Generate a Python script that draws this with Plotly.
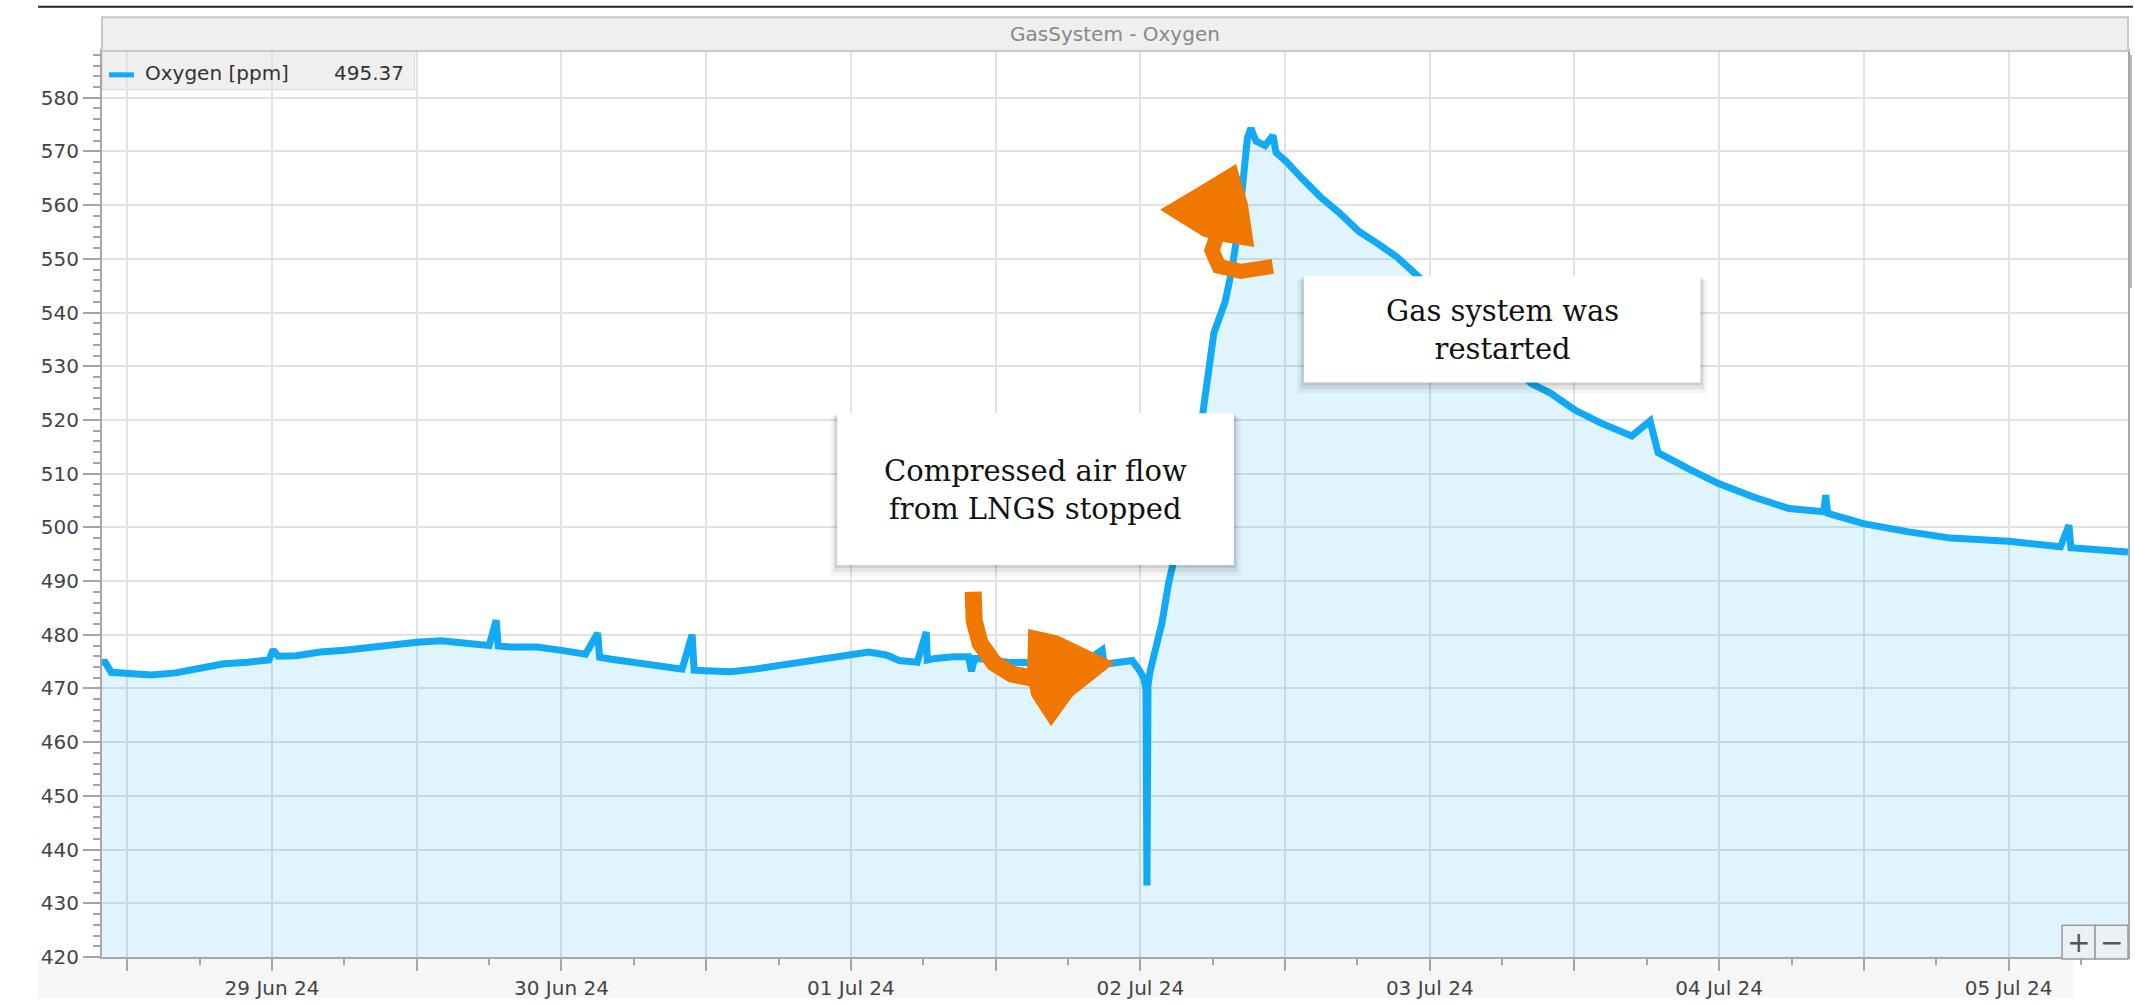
import pandas as pd
import plotly.graph_objects as go

# oxygen trace (ppm)
times = [
    "2024-06-28 09:54", "2024-06-28 10:05", "2024-06-28 10:40", "2024-06-28 12:00",
    "2024-06-28 14:00", "2024-06-28 16:00", "2024-06-28 18:00", "2024-06-28 20:00",
    "2024-06-28 22:00", "2024-06-28 23:45", "2024-06-29 00:05", "2024-06-29 00:30",
    "2024-06-29 02:00", "2024-06-29 04:00", "2024-06-29 06:00", "2024-06-29 08:00",
    "2024-06-29 10:00", "2024-06-29 12:00", "2024-06-29 14:00", "2024-06-29 16:00",
    "2024-06-29 18:00", "2024-06-29 18:35", "2024-06-29 18:45", "2024-06-29 20:00",
    "2024-06-29 22:00", "2024-06-30 00:00", "2024-06-30 02:00", "2024-06-30 03:00",
    "2024-06-30 03:10", "2024-06-30 04:00", "2024-06-30 06:00", "2024-06-30 08:00",
    "2024-06-30 10:00", "2024-06-30 10:50", "2024-06-30 11:00", "2024-06-30 12:00",
    "2024-06-30 14:00", "2024-06-30 16:00", "2024-06-30 18:00", "2024-06-30 20:00",
    "2024-06-30 22:00", "2024-07-01 00:00", "2024-07-01 01:30", "2024-07-01 03:00",
    "2024-07-01 04:00", "2024-07-01 05:30", "2024-07-01 06:15", "2024-07-01 06:20",
    "2024-07-01 07:00", "2024-07-01 08:30", "2024-07-01 09:45", "2024-07-01 10:00",
    "2024-07-01 10:15", "2024-07-01 11:00", "2024-07-01 13:00", "2024-07-01 15:00",
    "2024-07-01 17:00", "2024-07-01 19:00", "2024-07-01 20:50", "2024-07-01 21:00",
    "2024-07-01 22:00", "2024-07-01 23:20", "2024-07-01 23:50", "2024-07-02 00:18",
    "2024-07-02 00:28", "2024-07-02 00:33", "2024-07-02 00:38", "2024-07-02 00:48",
    "2024-07-02 01:12", "2024-07-02 01:48", "2024-07-02 02:21", "2024-07-02 02:54",
    "2024-07-02 05:11", "2024-07-02 05:33", "2024-07-02 06:06", "2024-07-02 07:02",
    "2024-07-02 07:35", "2024-07-02 08:08", "2024-07-02 08:30", "2024-07-02 08:53",
    "2024-07-02 09:10", "2024-07-02 09:36", "2024-07-02 10:21", "2024-07-02 11:00",
    "2024-07-02 11:15", "2024-07-02 12:06", "2024-07-02 13:24", "2024-07-02 14:57",
    "2024-07-02 16:32", "2024-07-02 18:08", "2024-07-02 19:43", "2024-07-02 21:18",
    "2024-07-02 22:54", "2024-07-03 08:24", "2024-07-03 10:00", "2024-07-03 12:00",
    "2024-07-03 14:12", "2024-07-03 16:45", "2024-07-03 18:16", "2024-07-03 18:56",
    "2024-07-03 21:28", "2024-07-04 00:00", "2024-07-04 02:54", "2024-07-04 05:48",
    "2024-07-04 08:40", "2024-07-04 08:50", "2024-07-04 09:00", "2024-07-04 11:58",
    "2024-07-04 15:36", "2024-07-04 19:12", "2024-07-05 00:00", "2024-07-05 04:18",
    "2024-07-05 05:00", "2024-07-05 05:10", "2024-07-05 09:54",
]
oxygen = [
    474.3, 475.2, 473.0, 472.7,
    472.5, 472.9, 473.9, 474.6,
    474.9, 475.3, 477.2, 476.0,
    476.1, 476.8, 477.1, 477.7,
    478.0, 478.6, 478.9, 478.6,
    478.0, 482.7, 477.9, 477.7,
    477.7, 477.1, 476.4, 480.3,
    475.8, 475.5, 474.9, 474.3,
    473.6, 480.0, 473.4, 473.3,
    473.1, 473.6, 474.3, 474.9,
    475.8, 476.2, 476.8, 476.2,
    475.2, 474.9, 480.5, 475.3,
    475.6, 475.9, 475.9, 473.2,
    475.6, 475.5, 474.9, 474.8,
    474.3, 474.3, 477.2, 474.5,
    474.9, 475.2, 473.7, 471.9,
    469.8, 433.3, 470.5, 473.1,
    476.8, 482.3, 489.7, 495.0,
    521.3, 527.5, 536.2, 542.0,
    547.9, 555.9, 563.0, 572.6,
    574.3, 571.9, 571.1, 573.0,
    569.8, 568.1, 565.0, 561.5,
    558.5, 555.1, 552.8, 550.3,
    547.0, 526.8, 525.0, 521.9,
    519.4, 517.0, 519.8, 513.9,
    510.9, 508.1, 505.6, 503.5,
    502.9, 506.0, 502.6, 500.7,
    499.2, 498.0, 497.4, 496.4,
    500.4, 496.2, 495.4,
]
legend_name = "Oxygen [ppm]"
legend_value = "495.37"
x_window = ["2024-06-28 09:54", "2024-07-05 09:54"]
y_window = [420, 588.7]

notes = ["Compressed air flow<br>from LNGS stopped", "Gas system was<br>restarted"]

LINE = "#12a9f5"
ORANGE = "#f07800"
UI_FONT = "DejaVu Sans"

# pixel frame of the plot area, used only for the overlay decorations
W, H = 2135, 1005
L, R, T, B = 102, 2130, 51, 964


def px(x):
    return (x - L) / (R - L)


def py(y):
    return (B - y) / (B - T)


def path(points, close=False):
    s = "M " + " L ".join(f"{px(x):.5f},{py(y):.5f}" for x, y in points)
    return s + (" Z" if close else "")


tickvals = pd.date_range("2024-06-28 12:00", "2024-07-05 00:00", freq="12h")
ticktext = [t.strftime("%d %b %y") if t.hour == 0 else "" for t in tickvals]

fig = go.Figure()
fig.add_trace(go.Scatter(x=pd.to_datetime(times), y=oxygen, mode="lines",
                         line=dict(color=LINE, width=7),
                         fill="tozeroy", fillcolor="rgba(18,169,245,0.13)",
                         name=legend_name, hoverinfo="skip"))

shapes = []
# window chrome: dark rule on top, title bar, bottom strip
shapes.append(dict(type="line", xref="paper", yref="paper",
                   x0=px(38), x1=px(2135), y0=py(6.5), y1=py(6.5),
                   line=dict(color="#222", width=2)))
shapes.append(dict(type="rect", xref="paper", yref="paper",
                   x0=0, x1=1, y0=py(51), y1=py(17),
                   fillcolor="#efefef", line=dict(color="#c8c8c8", width=2)))
shapes.append(dict(type="rect", xref="paper", yref="paper", layer="below",
                   x0=px(38), x1=px(2075), y0=py(1005), y1=py(966),
                   fillcolor="#f6f6f6", line=dict(width=0)))
# side panel edge at the far right
shapes.append(dict(type="line", xref="paper", yref="paper",
                   x0=px(2133), x1=px(2133), y0=py(290), y1=py(55),
                   line=dict(color="#b8b8b8", width=2)))
# legend box
shapes.append(dict(type="rect", xref="paper", yref="paper", layer="below",
                   x0=0, x1=px(415), y0=py(90), y1=1,
                   fillcolor="#efefef", line=dict(color="#d8d8d8", width=1)))
shapes.append(dict(type="line", xref="paper", yref="paper",
                   x0=px(109), x1=px(134), y0=py(75), y1=py(75),
                   line=dict(color=LINE, width=5)))

# callout boxes with soft shadows
boxes = [(838, 416, 1235, 569), (1305, 278, 1702, 385)]
for x0, y0, x1, y1 in boxes:
    for grow, drop, alpha in [(7, 11, 0.04), (4, 7, 0.07), (2, 3, 0.09)]:
        shapes.append(dict(type="rect", xref="paper", yref="paper",
                           x0=px(x0 - grow), x1=px(x1 + grow),
                           y0=py(y1 + drop), y1=py(y0 + drop - grow),
                           fillcolor=f"rgba(0,0,0,{alpha})", line=dict(width=0)))
    shapes.append(dict(type="rect", xref="paper", yref="paper",
                       x0=px(x0), x1=px(x1), y0=py(y1), y1=py(y0),
                       fillcolor="white", line=dict(width=0)))

# hand-drawn orange arrows
shapes.append(dict(type="path", xref="paper", yref="paper",
                   path=path([(974, 596), (975, 625), (981, 648), (995, 668),
                              (1013, 679), (1038, 684)]),
                   line=dict(color=ORANGE, width=17)))
shapes.append(dict(type="path", xref="paper", yref="paper",
                   path=path([(1031, 636), (1058, 642), (1112, 668), (1072, 700),
                              (1052, 728), (1034, 700), (1030, 680)], True),
                   fillcolor=ORANGE, line=dict(color=ORANGE, width=4)))
shapes.append(dict(type="path", xref="paper", yref="paper",
                   path=path([(1220, 232), (1213, 252), (1220, 268), (1242, 273),
                              (1274, 268)]),
                   line=dict(color=ORANGE, width=15)))
shapes.append(dict(type="path", xref="paper", yref="paper",
                   path=path([(1165, 211), (1200, 190), (1236, 168), (1247, 205),
                              (1253, 246), (1228, 242), (1205, 236)], True),
                   fillcolor=ORANGE, line=dict(color=ORANGE, width=4)))

# zoom +/- control
for x0, x1 in [(2064, 2097), (2097, 2130)]:
    shapes.append(dict(type="rect", xref="paper", yref="paper",
                       x0=px(x0), x1=px(x1), y0=py(966), y1=py(932),
                       fillcolor="rgba(236,240,243,0.9)", line=dict(color="#9a9a9a", width=1.5)))

annotations = [
    dict(text=legend_name, x=px(143), y=py(73), xanchor="left", yanchor="middle",
         font=dict(family=UI_FONT, size=20, color="#333")),
    dict(text=legend_value, x=px(406), y=py(73), xanchor="right", yanchor="middle",
         font=dict(family=UI_FONT, size=20, color="#333")),
    dict(text=notes[0], x=px(1036.5), y=py(493), xanchor="center", yanchor="middle",
         font=dict(family="DejaVu Serif", size=29, color="#111")),
    dict(text=notes[1], x=px(1503.5), y=py(332), xanchor="center", yanchor="middle",
         font=dict(family="DejaVu Serif", size=29, color="#111")),
    dict(text="+", x=px(2080.5), y=py(949), xanchor="center", yanchor="middle",
         font=dict(family=UI_FONT, size=28, color="#555")),
    dict(text="\u2212", x=px(2113.5), y=py(949), xanchor="center", yanchor="middle",
         font=dict(family=UI_FONT, size=28, color="#555")),
]
for a in annotations:
    a.update(xref="paper", yref="paper", showarrow=False)

fig.update_layout(
    width=W, height=H, autosize=False,
    margin=dict(l=L, r=W - R, t=T, b=H - B, pad=0),
    paper_bgcolor="white", plot_bgcolor="white",
    showlegend=False,
    title=dict(text="GasSystem - Oxygen", x=0.5, xref="paper", xanchor="center",
               y=1 - 34 / H, yref="container", yanchor="middle",
               font=dict(family=UI_FONT, size=20, color="#888")),
    xaxis=dict(type="date", range=x_window, tickvals=tickvals, ticktext=ticktext,
               ticks="outside", ticklen=12, tickwidth=2, tickcolor="#a4a4a4",
               showgrid=True, gridcolor="#e2e2e2", gridwidth=2,
               showline=True, linecolor="#a8a8a8", linewidth=2, mirror=True,
               zeroline=False, tickfont=dict(family=UI_FONT, size=20, color="#444"),
               minor=dict(dtick=6 * 3600 * 1000, tick0="2024-06-28", ticklen=6,
                          tickwidth=2, tickcolor="#a4a4a4", showgrid=False)),
    yaxis=dict(range=y_window, dtick=10, tick0=0,
               ticks="outside", ticklen=17, tickwidth=2, tickcolor="#a4a4a4",
               showgrid=True, gridcolor="#e2e2e2", gridwidth=2,
               showline=True, linecolor="#a8a8a8", linewidth=2, mirror=True,
               zeroline=False, tickfont=dict(family=UI_FONT, size=20, color="#444"),
               minor=dict(dtick=2, ticklen=7, tickwidth=2, tickcolor="#a4a4a4",
                          showgrid=False)),
    shapes=shapes,
    annotations=annotations,
)

fig.write_html("out.html", config={"displayModeBar": False},
               post_script="document.body.style.margin='0';")
